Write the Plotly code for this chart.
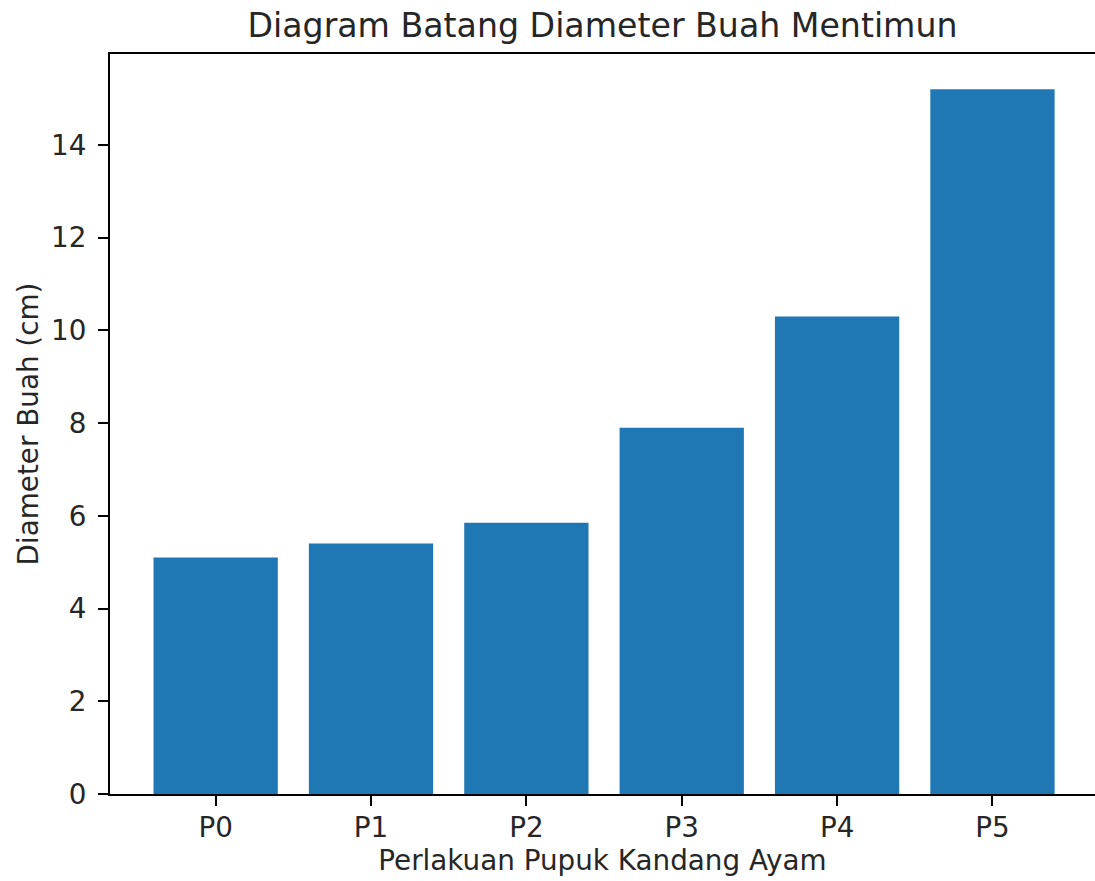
import plotly.graph_objects as go

categories = ["P0", "P1", "P2", "P3", "P4", "P5"]
diameters = [5.1, 5.4, 5.85, 7.9, 10.3, 15.2]
y_ticks = [0, 2, 4, 6, 8, 10, 12, 14]

FONT = "DejaVu Sans"
TXT = "#262626"
TICK_SIZE = 27.8
TITLE_SIZE = 33.2

fig = go.Figure(
    go.Bar(
        x=categories,
        y=diameters,
        width=0.8,
        marker=dict(color="#1f77b4", line=dict(width=0)),
    )
)

fig.update_layout(
    width=1095,
    height=881,
    margin=dict(l=110, r=0, t=54, b=87),
    paper_bgcolor="white",
    plot_bgcolor="white",
    font=dict(family=FONT, color=TXT, size=TICK_SIZE),
    showlegend=False,
    title=dict(
        text="Diagram Batang Diameter Buah Mentimun",
        font=dict(family=FONT, size=TITLE_SIZE, color=TXT),
        x=0.5,
        xref="paper",
        xanchor="center",
        y=1,
        yref="paper",
        yanchor="bottom",
        pad=dict(b=17),
    ),
)

fig.update_xaxes(
    range=[-0.68, 5.66],
    showgrid=False,
    showline=True,
    linecolor="black",
    linewidth=2,
    mirror=True,
    ticks="outside",
    ticklen=10,
    tickwidth=2,
    tickcolor="black",
    ticklabelstandoff=-2,
    tickfont=dict(family=FONT, size=TICK_SIZE, color=TXT),
    title=dict(text="Perlakuan Pupuk Kandang Ayam", font=dict(family=FONT, size=TICK_SIZE, color=TXT), standoff=4),
)

fig.update_yaxes(
    range=[0, 15.96],
    tickvals=y_ticks,
    showgrid=False,
    zeroline=False,
    showline=True,
    linecolor="black",
    linewidth=2,
    ticks="outside",
    ticklen=10,
    tickwidth=2,
    tickcolor="black",
    ticklabelstandoff=6,
    tickfont=dict(family=FONT, size=TICK_SIZE, color=TXT),
    title=dict(text="Diameter Buah (cm)", font=dict(family=FONT, size=TICK_SIZE, color=TXT), standoff=4),
)

fig.write_html(
    "out.html",
    config={"displayModeBar": False},
    post_script="document.body.style.margin='0px';document.body.style.overflow='hidden';",
)
